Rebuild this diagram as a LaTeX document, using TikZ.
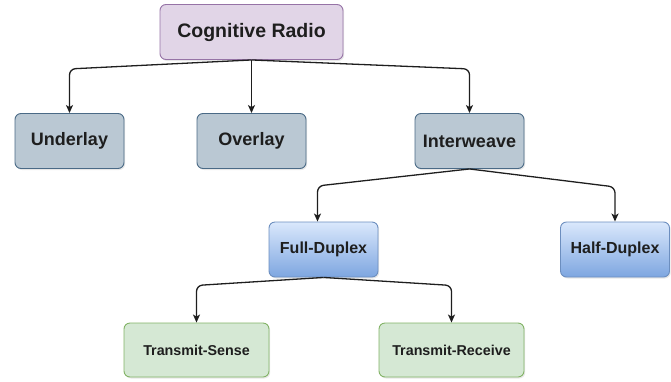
\documentclass[tikz,border=0pt]{standalone}
\usepackage{fontspec}
\setmainfont{Liberation Sans}
\usetikzlibrary{arrows.meta,shadows}

\definecolor{rootfill}{HTML}{E1D5E7}
\definecolor{rootline}{HTML}{9673A6}
\definecolor{grayfill}{HTML}{BAC8D3}
\definecolor{grayline}{HTML}{4A6A86}
\definecolor{bluetop}{HTML}{DAE8FC}
\definecolor{bluebot}{HTML}{7EA6E0}
\definecolor{blueline}{HTML}{6C8EBF}
\definecolor{greenfill}{HTML}{D5E8D4}
\definecolor{greenline}{HTML}{82B366}
\definecolor{inkline}{HTML}{1E1E1E}

\begin{document}
\begin{tikzpicture}[x=1pt,y=-1pt,
    box/.style={rounded corners=6pt, line width=0.9pt, inner sep=0pt,
        minimum height=55pt, font=\bfseries, text=inkline,
        drop shadow={shadow xshift=1.2pt, shadow yshift=-1.5pt, opacity=0.18}},
    rootbox/.style={box, fill=rootfill, draw=rootline, minimum width=183pt, font=\fontsize{19.5}{22}\bfseries},
    graybox/.style={box, fill=grayfill, draw=grayline, minimum width=109pt, font=\fontsize{18}{21}\bfseries},
    bluebox/.style={box, top color=bluetop, bottom color=bluebot, draw=blueline, minimum width=109pt, font=\fontsize{16}{19}\bfseries},
    greenbox/.style={box, fill=greenfill, draw=greenline, minimum width=145pt, minimum height=54pt, font=\fontsize{14.3}{17}\bfseries},
    arr/.style={-{Stealth[length=8pt,width=7pt,inset=2pt]}, line width=1.3pt, draw=inkline, rounded corners=6pt}]
    \useasboundingbox (0,0) rectangle (671,381);

    \node[rootbox] (radio) at (251.5,32) {Cognitive Radio};
    \node[graybox] (under) at (69.5,141) {Underlay};
    \node[graybox] (over) at (251.5,141) {Overlay};
    \node[graybox] (inter) at (469.5,141) {Interweave};
    \node[bluebox] (full) at (323.5,249.5) {Full-Duplex};
    \node[bluebox] (half) at (615,249.5) {Half-Duplex};
    \node[greenbox] (sense) at (196.5,350) {Transmit-Sense};
    \node[greenbox] (recv) at (451.5,350) {Transmit-Receive};
    \coordinate (fullin) at ([xshift=-6pt]full.north);

    \draw[arr] (radio.south) -- ([yshift=-9pt]radio.south -| under.north) -- (under.north);
    \draw[arr] (radio.south) -- (over.north);
    \draw[arr] (radio.south) -- ([yshift=-9pt]radio.south -| inter.north) -- (inter.north);
    \draw[arr] (inter.south) -- ([yshift=-17pt]inter.south -| fullin) -- (fullin);
    \draw[arr] (inter.south) -- ([yshift=-18pt]inter.south -| half.north) -- (half.north);
    \draw[arr] (full.south) -- ([yshift=-8pt]full.south -| sense.north) -- (sense.north);
    \draw[arr] (full.south) -- ([yshift=-8pt]full.south -| recv.north) -- (recv.north);
\end{tikzpicture}
\end{document}
